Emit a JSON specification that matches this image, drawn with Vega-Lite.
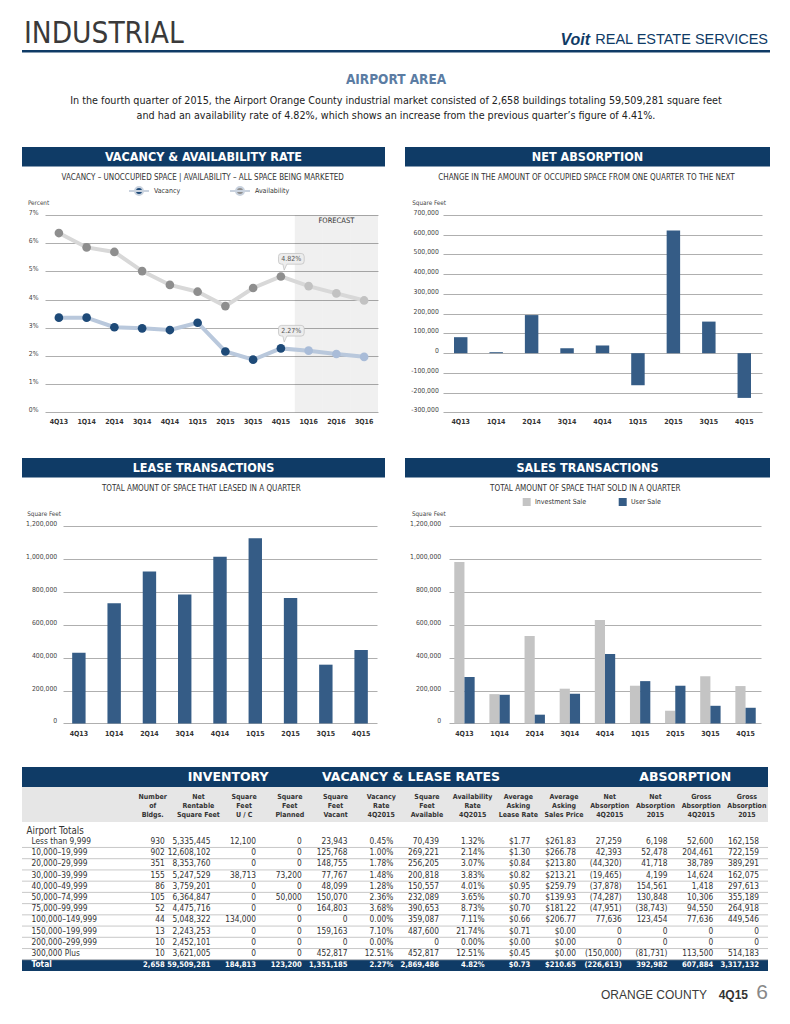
{
"$schema": "https://vega.github.io/schema/vega-lite/v6.json",
"padding": 0,
"background": "white",
"bounds": "flush",
"spacing": 0,
"resolve": {"scale": {"color": "independent"}, "legend": {"color": "independent"}},
"config": {"view": {"stroke": null}, "font": "Liberation Sans Narrow, DejaVu Sans Condensed, Roboto, sans-serif", "title": {"font": "Liberation Sans Narrow, DejaVu Sans Condensed, Roboto, sans-serif", "subtitleFont": "Liberation Sans Narrow, DejaVu Sans Condensed, Roboto, sans-serif"}},
"hconcat": [
 {"width": 22, "height": 40, "data": {"values": [{}]}, "mark": "text", "encoding": {"text": {"value": ""}}},
 {"vconcat": [
  {"width": 10, "height": 50, "data": {"values": [{}]}, "mark": "text", "encoding": {"text": {"value": ""}}},
  {"hconcat": [
    {"width": 518, "height": 2.5, "view": {"fill": "#0f3b66", "stroke": null}, "title": {"text": "INDUSTRIAL", "anchor": "start", "fontSize": 29.5, "fontWeight": "normal", "color": "#3a3a3a", "offset": -4.5, "dx": 2}, "data": {"values": [{}]}, "mark": "text", "encoding": {"text": {"value": ""}}},
    {"width": 50, "height": 2.5, "view": {"fill": "#0f3b66", "stroke": null}, "title": {"text": "Voit", "anchor": "end", "fontSize": 16, "fontWeight": "bold", "fontStyle": "italic", "color": "#0f3b66", "font": "Liberation Sans, Arial, sans-serif", "offset": -2.5}, "data": {"values": [{}]}, "mark": "text", "encoding": {"text": {"value": ""}}},
    {"width": 180, "height": 2.5, "view": {"fill": "#0f3b66", "stroke": null}, "title": {"text": "REAL ESTATE SERVICES", "anchor": "end", "fontSize": 14.5, "fontWeight": "normal", "color": "#0f3b66", "font": "Liberation Sans, Arial, sans-serif", "offset": -1.8, "dx": -2}, "data": {"values": [{}]}, "mark": "text", "encoding": {"text": {"value": ""}}}
  ], "spacing": 0, "bounds": "flush"},
  {"width": 10, "height": 97, "data": {"values": [{}]}, "mark": "text", "encoding": {"text": {"value": ""}}},
  {"hconcat": [
    {"width": 363, "height": 19.5, "view": {"fill": "#0f3b66", "stroke": null}, "data": {"values": [{"t": "VACANCY & AVAILABILITY RATE"}]}, "mark": {"type": "text", "color": "white", "fontSize": 12.5, "fontWeight": "bold"}, "encoding": {"text": {"field": "t"}}},
    {"width": 365, "height": 19.5, "view": {"fill": "#0f3b66", "stroke": null}, "data": {"values": [{"t": "NET ABSORPTION"}]}, "mark": {"type": "text", "color": "white", "fontSize": 12.5, "fontWeight": "bold"}, "encoding": {"text": {"field": "t"}}}
  ], "spacing": 20, "bounds": "flush",
  "title": {"text": "AIRPORT AREA", "subtitle": ["In the fourth quarter of 2015, the Airport Orange County industrial market consisted of 2,658 buildings totaling 59,509,281 square feet", "and had an availability rate of 4.82%, which shows an increase from the previous quarter’s figure of 4.41%."], "anchor": "middle", "fontSize": 13.5, "fontWeight": "bold", "color": "#5b7ca3", "subtitleFontSize": 10.7, "subtitleColor": "#222", "subtitleLineHeight": 15, "subtitlePadding": 10, "offset": 26}},
  {"width": 10, "height": 67.3, "data": {"values": [{}]}, "mark": "text", "encoding": {"text": {"value": ""}}},
  {"hconcat": [
    {"width": 23, "height": 1, "data": {"values": [{}]}, "mark": "text", "encoding": {"text": {"value": ""}}},
    {"width": 333, "height": 197.4,
     "title": {"text": "VACANCY – UNOCCUPIED SPACE  |  AVAILABILITY – ALL SPACE BEING MARKETED", "frame": "bounds", "anchor": "middle", "fontSize": 8, "fontWeight": "normal", "color": "#333", "offset": 4},
     "data": {"values": [
      {"q": "4Q13", "series": "Availability", "rate": 0.0636, "forecast": false},
      {"q": "1Q14", "series": "Availability", "rate": 0.0585, "forecast": false},
      {"q": "2Q14", "series": "Availability", "rate": 0.0569, "forecast": false},
      {"q": "3Q14", "series": "Availability", "rate": 0.0501, "forecast": false},
      {"q": "4Q14", "series": "Availability", "rate": 0.0452, "forecast": false},
      {"q": "1Q15", "series": "Availability", "rate": 0.0428, "forecast": false},
      {"q": "2Q15", "series": "Availability", "rate": 0.0377, "forecast": false},
      {"q": "3Q15", "series": "Availability", "rate": 0.0441, "forecast": false},
      {"q": "4Q15", "series": "Availability", "rate": 0.0482, "forecast": false},
      {"q": "1Q16", "series": "Availability", "rate": 0.0448, "forecast": true},
      {"q": "2Q16", "series": "Availability", "rate": 0.0422, "forecast": true},
      {"q": "3Q16", "series": "Availability", "rate": 0.0397, "forecast": true},
      {"q": "4Q13", "series": "Vacancy", "rate": 0.0336, "forecast": false},
      {"q": "1Q14", "series": "Vacancy", "rate": 0.0336, "forecast": false},
      {"q": "2Q14", "series": "Vacancy", "rate": 0.0302, "forecast": false},
      {"q": "3Q14", "series": "Vacancy", "rate": 0.0298, "forecast": false},
      {"q": "4Q14", "series": "Vacancy", "rate": 0.0292, "forecast": false},
      {"q": "1Q15", "series": "Vacancy", "rate": 0.0318, "forecast": false},
      {"q": "2Q15", "series": "Vacancy", "rate": 0.0216, "forecast": false},
      {"q": "3Q15", "series": "Vacancy", "rate": 0.0187, "forecast": false},
      {"q": "4Q15", "series": "Vacancy", "rate": 0.0227, "forecast": false},
      {"q": "1Q16", "series": "Vacancy", "rate": 0.0219, "forecast": true},
      {"q": "2Q16", "series": "Vacancy", "rate": 0.0207, "forecast": true},
      {"q": "3Q16", "series": "Vacancy", "rate": 0.0197, "forecast": true}
     ]},
     "encoding": {
      "x": {"field": "q", "type": "ordinal", "scale": {"type": "band", "domain": ["4Q13","1Q14","2Q14","3Q14","4Q14","1Q15","2Q15","3Q15","4Q15","1Q16","2Q16","3Q16"], "paddingInner": 0, "paddingOuter": 0}, "axis": {"title": null, "labelAngle": 0, "ticks": false, "domain": false, "labelPadding": 5, "labelFontSize": 7, "labelColor": "#333", "labelFontWeight": "bold"}}
     },
     "layer": [
      {"transform": [{"filter": "datum.series === 'Vacancy' && datum.forecast"}], "mark": {"type": "bar", "color": "#000000", "opacity": 0.06},
       "encoding": {"y": {"datum": 0.07, "type": "quantitative", "scale": {"domain": [0, 0.07], "nice": false}, "axis": {"title": "Percent", "values": [0,0.01,0.02,0.03,0.04,0.05,0.06,0.07], "format": ".0%", "labelOverlap": false, "grid": true, "gridColor": "#9b9b9b", "gridWidth": 0.8, "domain": false, "ticks": false, "labelAlign": "left", "labelPadding": 16.7, "labelFontSize": 6.8, "labelColor": "#444", "labelOffset": -2.5, "titleAngle": 0, "titleAlign": "left", "titleBaseline": "middle", "titleX": -17.6, "titleY": -12.3, "titleFontSize": 6.3, "titleFontWeight": "normal", "titleColor": "#444"}}}},
      {"data": {"values": [{"note": "FORECAST"}]}, "mark": {"type": "text", "fontSize": 7.5, "color": "#333"},
       "encoding": {"x": {"datum": "2Q16"}, "text": {"field": "note"},
        "y": {"datum": 0.068, "type": "quantitative", "scale": {"domain": [0, 0.07], "nice": false}, "axis": {"title": "Percent", "values": [0,0.01,0.02,0.03,0.04,0.05,0.06,0.07], "format": ".0%", "labelOverlap": false, "grid": true, "gridColor": "#9b9b9b", "gridWidth": 0.8, "domain": false, "ticks": false, "labelAlign": "left", "labelPadding": 16.7, "labelFontSize": 6.8, "labelColor": "#444", "labelOffset": -2.5, "titleAngle": 0, "titleAlign": "left", "titleBaseline": "middle", "titleX": -17.6, "titleY": -12.3, "titleFontSize": 6.3, "titleFontWeight": "normal", "titleColor": "#444"}}}},
      {"transform": [{"filter": "datum.series === 'Availability'"}], "mark": {"type": "line", "strokeWidth": 4, "color": "#d8d8d8"},
       "encoding": {"y": {"field": "rate", "type": "quantitative", "scale": {"domain": [0, 0.07], "nice": false}, "axis": {"title": "Percent", "values": [0,0.01,0.02,0.03,0.04,0.05,0.06,0.07], "format": ".0%", "labelOverlap": false, "grid": true, "gridColor": "#9b9b9b", "gridWidth": 0.8, "domain": false, "ticks": false, "labelAlign": "left", "labelPadding": 16.7, "labelFontSize": 6.8, "labelColor": "#444", "labelOffset": -2.5, "titleAngle": 0, "titleAlign": "left", "titleBaseline": "middle", "titleX": -17.6, "titleY": -12.3, "titleFontSize": 6.3, "titleFontWeight": "normal", "titleColor": "#444"}}}},
      {"transform": [{"filter": "datum.series === 'Vacancy'"}], "mark": {"type": "line", "strokeWidth": 4, "color": "#b9c8dc"},
       "encoding": {"y": {"field": "rate", "type": "quantitative", "scale": {"domain": [0, 0.07], "nice": false}, "axis": {"title": "Percent", "values": [0,0.01,0.02,0.03,0.04,0.05,0.06,0.07], "format": ".0%", "labelOverlap": false, "grid": true, "gridColor": "#9b9b9b", "gridWidth": 0.8, "domain": false, "ticks": false, "labelAlign": "left", "labelPadding": 16.7, "labelFontSize": 6.8, "labelColor": "#444", "labelOffset": -2.5, "titleAngle": 0, "titleAlign": "left", "titleBaseline": "middle", "titleX": -17.6, "titleY": -12.3, "titleFontSize": 6.3, "titleFontWeight": "normal", "titleColor": "#444"}}}},
      {"transform": [{"filter": "!datum.forecast"}], "mark": {"type": "point", "filled": true, "size": 75, "opacity": 1},
       "encoding": {"y": {"field": "rate", "type": "quantitative", "scale": {"domain": [0, 0.07], "nice": false}, "axis": {"title": "Percent", "values": [0,0.01,0.02,0.03,0.04,0.05,0.06,0.07], "format": ".0%", "labelOverlap": false, "grid": true, "gridColor": "#9b9b9b", "gridWidth": 0.8, "domain": false, "ticks": false, "labelAlign": "left", "labelPadding": 16.7, "labelFontSize": 6.8, "labelColor": "#444", "labelOffset": -2.5, "titleAngle": 0, "titleAlign": "left", "titleBaseline": "middle", "titleX": -17.6, "titleY": -12.3, "titleFontSize": 6.3, "titleFontWeight": "normal", "titleColor": "#444"}},
        "color": {"field": "series", "type": "nominal", "scale": {"domain": ["Vacancy", "Availability"], "range": ["#1e4a78", "#8e8e8e"]},
        "legend": {"orient": "none", "legendX": 89, "legendY": -29, "direction": "horizontal", "title": null, "symbolType": "M-2.5,0 L2.5,0 M-1,0 A1,1 0 1,0 1,0 A1,1 0 1,0 -1,0 Z", "symbolSize": 64, "symbolStrokeWidth": 2, "symbolStrokeColor": "#c9d2de", "labelFontSize": 7, "labelColor": "#333", "labelOffset": 10, "columnPadding": 45}}}},
      {"transform": [{"filter": "datum.forecast"}], "mark": {"type": "point", "filled": true, "size": 75, "opacity": 1},
       "encoding": {"y": {"field": "rate", "type": "quantitative", "scale": {"domain": [0, 0.07], "nice": false}, "axis": {"title": "Percent", "values": [0,0.01,0.02,0.03,0.04,0.05,0.06,0.07], "format": ".0%", "labelOverlap": false, "grid": true, "gridColor": "#9b9b9b", "gridWidth": 0.8, "domain": false, "ticks": false, "labelAlign": "left", "labelPadding": 16.7, "labelFontSize": 6.8, "labelColor": "#444", "labelOffset": -2.5, "titleAngle": 0, "titleAlign": "left", "titleBaseline": "middle", "titleX": -17.6, "titleY": -12.3, "titleFontSize": 6.3, "titleFontWeight": "normal", "titleColor": "#444"}},
        "color": {"condition": {"test": "datum.series === 'Vacancy'", "value": "#a9bcd8"}, "value": "#c2c2c2"}}},
      {"transform": [{"filter": "datum.q === '4Q15'"}], "mark": {"type": "point", "filled": true, "size": 400, "shape": "M0.06,-2.3 L2.03,-2.3 Q2.33,-2.3 2.33,-2 L2.33,-1.53 Q2.33,-1.23 2.03,-1.23 L0.6,-1.23 L0.33,-0.63 L0.2,-1.23 L0.06,-1.23 Q-0.24,-1.23 -0.24,-1.53 L-0.24,-2 Q-0.24,-2.3 0.06,-2.3 Z", "color": "#ededed", "stroke": "#bdbdbd", "strokeWidth": 0.7, "opacity": 1},
       "encoding": {"y": {"field": "rate", "type": "quantitative", "scale": {"domain": [0, 0.07], "nice": false}, "axis": {"title": "Percent", "values": [0,0.01,0.02,0.03,0.04,0.05,0.06,0.07], "format": ".0%", "labelOverlap": false, "grid": true, "gridColor": "#9b9b9b", "gridWidth": 0.8, "domain": false, "ticks": false, "labelAlign": "left", "labelPadding": 16.7, "labelFontSize": 6.8, "labelColor": "#444", "labelOffset": -2.5, "titleAngle": 0, "titleAlign": "left", "titleBaseline": "middle", "titleX": -17.6, "titleY": -12.3, "titleFontSize": 6.3, "titleFontWeight": "normal", "titleColor": "#444"}}}},
      {"transform": [{"filter": "datum.q === '4Q15'"}], "mark": {"type": "text", "dx": 10.4, "dy": -17.6, "fontSize": 7, "color": "#555"},
       "encoding": {"y": {"field": "rate", "type": "quantitative", "scale": {"domain": [0, 0.07], "nice": false}, "axis": {"title": "Percent", "values": [0,0.01,0.02,0.03,0.04,0.05,0.06,0.07], "format": ".0%", "labelOverlap": false, "grid": true, "gridColor": "#9b9b9b", "gridWidth": 0.8, "domain": false, "ticks": false, "labelAlign": "left", "labelPadding": 16.7, "labelFontSize": 6.8, "labelColor": "#444", "labelOffset": -2.5, "titleAngle": 0, "titleAlign": "left", "titleBaseline": "middle", "titleX": -17.6, "titleY": -12.3, "titleFontSize": 6.3, "titleFontWeight": "normal", "titleColor": "#444"}},
        "text": {"field": "rate", "format": ".2%"}}}
     ]},
    {"width": 65, "height": 1, "data": {"values": [{}]}, "mark": "text", "encoding": {"text": {"value": ""}}},
    {"width": 319, "height": 197.4,
     "title": {"text": "CHANGE IN THE AMOUNT OF OCCUPIED SPACE FROM ONE QUARTER TO THE NEXT", "frame": "bounds", "anchor": "middle", "fontSize": 8, "fontWeight": "normal", "color": "#333", "offset": 17},
     "data": {"values": [
      {"q": "4Q13", "sf": 81000}, {"q": "1Q14", "sf": 5000}, {"q": "2Q14", "sf": 193000}, {"q": "3Q14", "sf": 25000}, {"q": "4Q14", "sf": 39000},
      {"q": "1Q15", "sf": -162400}, {"q": "2Q15", "sf": 622000}, {"q": "3Q15", "sf": 160000}, {"q": "4Q15", "sf": -226613}
     ]},
     "mark": {"type": "bar", "color": "#355c86"},
     "encoding": {
      "x": {"field": "q", "type": "ordinal", "sort": null, "scale": {"paddingInner": 0.62, "paddingOuter": 0.31}, "axis": {"title": null, "labelAngle": 0, "ticks": false, "domain": false, "labelPadding": 5, "labelFontSize": 7, "labelColor": "#333", "labelFontWeight": "bold"}},
      "y": {"field": "sf", "type": "quantitative", "scale": {"domain": [-300000, 700000], "nice": false}, "axis": {"title": "Square Feet", "values": [-300000,-200000,-100000,0,100000,200000,300000,400000,500000,600000,700000], "labelExpr": "(datum.value < 0 ? '-' : '') + format(abs(datum.value), ',')", "labelOverlap": false, "grid": true, "gridColor": "#9b9b9b", "gridWidth": 0.8, "domain": false, "ticks": false, "labelPadding": 4.7, "labelFontSize": 6.8, "labelColor": "#444", "labelOffset": -2.5, "titleAngle": 0, "titleAlign": "left", "titleBaseline": "middle", "titleX": -31.3, "titleY": -12.6, "titleFontSize": 6.3, "titleFontWeight": "normal", "titleColor": "#444"}}
     }}
  ], "spacing": 0, "bounds": "flush", "resolve": {"scale": {"color": "independent"}, "legend": {"color": "independent"}}},
  {"width": 10, "height": 242.4, "data": {"values": [{}]}, "mark": "text", "encoding": {"text": {"value": ""}}},
  {"hconcat": [
    {"width": 363, "height": 19.5, "view": {"fill": "#0f3b66", "stroke": null}, "data": {"values": [{"t": "LEASE TRANSACTIONS"}]}, "mark": {"type": "text", "color": "white", "fontSize": 12.5, "fontWeight": "bold"}, "encoding": {"text": {"field": "t"}}},
    {"width": 365, "height": 19.5, "view": {"fill": "#0f3b66", "stroke": null}, "data": {"values": [{"t": "SALES TRANSACTIONS"}]}, "mark": {"type": "text", "color": "white", "fontSize": 12.5, "fontWeight": "bold"}, "encoding": {"text": {"field": "t"}}}
  ], "spacing": 20, "bounds": "flush"},
  {"width": 10, "height": 67.6, "data": {"values": [{}]}, "mark": "text", "encoding": {"text": {"value": ""}}},
  {"hconcat": [
    {"width": 41, "height": 1, "data": {"values": [{}]}, "mark": "text", "encoding": {"text": {"value": ""}}},
    {"width": 314, "height": 197.4,
     "title": {"text": "TOTAL AMOUNT OF SPACE THAT LEASED IN A QUARTER", "frame": "bounds", "anchor": "middle", "fontSize": 8, "fontWeight": "normal", "color": "#333", "offset": 17},
     "data": {"values": [
      {"q": "4Q13", "sf": 430000}, {"q": "1Q14", "sf": 730000}, {"q": "2Q14", "sf": 924000}, {"q": "3Q14", "sf": 784000}, {"q": "4Q14", "sf": 1013000},
      {"q": "1Q15", "sf": 1125000}, {"q": "2Q15", "sf": 762000}, {"q": "3Q15", "sf": 357000}, {"q": "4Q15", "sf": 446000}
     ]},
     "mark": {"type": "bar", "color": "#355c86"},
     "encoding": {
      "x": {"field": "q", "type": "ordinal", "sort": null, "scale": {"paddingInner": 0.62, "paddingOuter": 0.26}, "axis": {"title": null, "labelAngle": 0, "ticks": false, "domain": false, "labelPadding": 6, "labelFontSize": 7, "labelColor": "#333", "labelFontWeight": "bold"}},
      "y": {"field": "sf", "type": "quantitative", "scale": {"domain": [0, 1200000], "nice": false}, "axis": {"title": "Square Feet", "values": [0,200000,400000,600000,800000,1000000,1200000], "labelExpr": "format(datum.value, ',')", "labelOverlap": false, "grid": true, "gridColor": "#9b9b9b", "gridWidth": 0.8, "domain": false, "ticks": false, "labelPadding": 6.3, "labelFontSize": 6.8, "labelColor": "#444", "labelOffset": -2.5, "titleAngle": 0, "titleAlign": "left", "titleBaseline": "middle", "titleX": -36.3, "titleY": -12.6, "titleFontSize": 6.3, "titleFontWeight": "normal", "titleColor": "#444"}}
     }},
    {"width": 72, "height": 1, "data": {"values": [{}]}, "mark": "text", "encoding": {"text": {"value": ""}}},
    {"width": 312, "height": 197.4,
     "title": {"text": "TOTAL AMOUNT OF SPACE THAT SOLD IN A QUARTER", "frame": "bounds", "anchor": "middle", "fontSize": 8, "fontWeight": "normal", "color": "#333", "offset": 4},
     "data": {"values": [
      {"q": "4Q13", "type": "Investment Sale", "sf": 981000}, {"q": "4Q13", "type": "User Sale", "sf": 282000},
      {"q": "1Q14", "type": "Investment Sale", "sf": 178000}, {"q": "1Q14", "type": "User Sale", "sf": 174000},
      {"q": "2Q14", "type": "Investment Sale", "sf": 531000}, {"q": "2Q14", "type": "User Sale", "sf": 53000},
      {"q": "3Q14", "type": "Investment Sale", "sf": 211000}, {"q": "3Q14", "type": "User Sale", "sf": 180000},
      {"q": "4Q14", "type": "Investment Sale", "sf": 628000}, {"q": "4Q14", "type": "User Sale", "sf": 422000},
      {"q": "1Q15", "type": "Investment Sale", "sf": 229000}, {"q": "1Q15", "type": "User Sale", "sf": 257000},
      {"q": "2Q15", "type": "Investment Sale", "sf": 77000}, {"q": "2Q15", "type": "User Sale", "sf": 229000},
      {"q": "3Q15", "type": "Investment Sale", "sf": 286000}, {"q": "3Q15", "type": "User Sale", "sf": 107000},
      {"q": "4Q15", "type": "Investment Sale", "sf": 227000}, {"q": "4Q15", "type": "User Sale", "sf": 95000}
     ]},
     "mark": {"type": "bar"},
     "encoding": {
      "x": {"field": "q", "type": "ordinal", "sort": null, "scale": {"paddingInner": 0.42, "paddingOuter": 0.15}, "axis": {"title": null, "labelAngle": 0, "ticks": false, "domain": false, "labelPadding": 6, "labelFontSize": 7, "labelColor": "#333", "labelFontWeight": "bold"}},
      "xOffset": {"field": "type", "sort": ["Investment Sale", "User Sale"]},
      "y": {"field": "sf", "type": "quantitative", "scale": {"domain": [0, 1200000], "nice": false}, "axis": {"title": "Square Feet", "values": [0,200000,400000,600000,800000,1000000,1200000], "labelExpr": "format(datum.value, ',')", "labelOverlap": false, "grid": true, "gridColor": "#9b9b9b", "gridWidth": 0.8, "domain": false, "ticks": false, "labelPadding": 8.3, "labelFontSize": 6.8, "labelColor": "#444", "labelOffset": -2.5, "titleAngle": 0, "titleAlign": "left", "titleBaseline": "middle", "titleX": -37.6, "titleY": -12.6, "titleFontSize": 6.3, "titleFontWeight": "normal", "titleColor": "#444"}},
      "color": {"field": "type", "type": "nominal", "scale": {"domain": ["Investment Sale", "User Sale"], "range": ["#c4c4c4", "#355c86"]}, "legend": {"orient": "none", "legendX": 72.7, "legendY": -29, "direction": "horizontal", "title": null, "symbolType": "square", "symbolSize": 64, "labelFontSize": 7, "labelColor": "#333", "labelOffset": 3.3, "columnPadding": 31}}
     }}
  ], "spacing": 0, "bounds": "flush", "resolve": {"scale": {"color": "independent"}, "legend": {"color": "independent"}}},
  {"width": 10, "height": 240.7, "data": {"values": [{}]}, "mark": "text", "encoding": {"text": {"value": ""}}},
  {"width": 746, "height": 20, "view": {"fill": "#0f3b66", "stroke": null},
   "data": {"values": [{"group": "INVENTORY", "over": "uc"}, {"group": "VACANCY & LEASE RATES", "over": "sa"}, {"group": "ABSORPTION", "over": "ga4"}]},
   "mark": {"type": "text", "color": "white", "fontSize": 12.5, "fontWeight": "bold", "dx": -28, "font": "DejaVu Sans, sans-serif"},
   "encoding": {"x": {"field": "over", "type": "ordinal", "scale": {"type": "point", "domain": ["b","nr","uc","pl","sv","vr","sa","ar","lr","sp","na4","na15","ga4","ga15"], "range": [142.7, 736.9], "padding": 0}, "axis": null}, "text": {"field": "group"}}},
  {"width": 746, "height": 35, "view": {"fill": "#e6e6e6", "stroke": null},
   "data": {"values": [
    {"k": "b", "h": "Number|of|Bldgs."}, {"k": "nr", "h": "Net|Rentable|Square Feet"}, {"k": "uc", "h": "Square|Feet|U / C"}, {"k": "pl", "h": "Square|Feet|Planned"},
    {"k": "sv", "h": "Square|Feet|Vacant"}, {"k": "vr", "h": "Vacancy|Rate|4Q2015"}, {"k": "sa", "h": "Square|Feet|Available"}, {"k": "ar", "h": "Availability|Rate|4Q2015"},
    {"k": "lr", "h": "Average|Asking|Lease Rate"}, {"k": "sp", "h": "Average|Asking|Sales Price"}, {"k": "na4", "h": "Net|Absorption|4Q2015"}, {"k": "na15", "h": "Net|Absorption|2015"},
    {"k": "ga4", "h": "Gross|Absorption|4Q2015"}, {"k": "ga15", "h": "Gross|Absorption|2015"}
   ]},
   "mark": {"type": "text", "fontSize": 7, "fontWeight": "bold", "color": "#333", "lineBreak": "|", "lineHeight": 9.3, "dx": -12, "dy": -8, "align": "center", "baseline": "middle"},
   "encoding": {"x": {"field": "k", "type": "ordinal", "scale": {"type": "point", "domain": ["b","nr","uc","pl","sv","vr","sa","ar","lr","sp","na4","na15","ga4","ga15"], "range": [142.7, 736.9], "padding": 0}, "axis": null}, "text": {"field": "h"}}},
  {"width": 10, "height": 3, "data": {"values": [{}]}, "mark": "text", "encoding": {"text": {"value": ""}}},
  {"width": 746, "height": 146,
   "data": {"values": [
    {"label": "Less than 9,999", "b": "930", "nr": "5,335,445", "uc": "12,100", "pl": "0", "sv": "23,943", "vr": "0.45%", "sa": "70,439", "ar": "1.32%", "lr": "$1.77", "sp": "$261.83", "na4": "27,259", "na15": "6,198", "ga4": "52,600", "ga15": "162,158"},
    {"label": "10,000–19,999", "b": "902", "nr": "12,608,102", "uc": "0", "pl": "0", "sv": "125,768", "vr": "1.00%", "sa": "269,221", "ar": "2.14%", "lr": "$1.30", "sp": "$266.78", "na4": "42,393", "na15": "52,478", "ga4": "204,461", "ga15": "722,159"},
    {"label": "20,000–29,999", "b": "351", "nr": "8,353,760", "uc": "0", "pl": "0", "sv": "148,755", "vr": "1.78%", "sa": "256,205", "ar": "3.07%", "lr": "$0.84", "sp": "$213.80", "na4": "(44,320)", "na15": "41,718", "ga4": "38,789", "ga15": "389,291"},
    {"label": "30,000–39,999", "b": "155", "nr": "5,247,529", "uc": "38,713", "pl": "73,200", "sv": "77,767", "vr": "1.48%", "sa": "200,818", "ar": "3.83%", "lr": "$0.82", "sp": "$213.21", "na4": "(19,465)", "na15": "4,199", "ga4": "14,624", "ga15": "162,075"},
    {"label": "40,000–49,999", "b": "86", "nr": "3,759,201", "uc": "0", "pl": "0", "sv": "48,099", "vr": "1.28%", "sa": "150,557", "ar": "4.01%", "lr": "$0.95", "sp": "$259.79", "na4": "(37,878)", "na15": "154,561", "ga4": "1,418", "ga15": "297,613"},
    {"label": "50,000–74,999", "b": "105", "nr": "6,364,847", "uc": "0", "pl": "50,000", "sv": "150,070", "vr": "2.36%", "sa": "232,089", "ar": "3.65%", "lr": "$0.70", "sp": "$139.93", "na4": "(74,287)", "na15": "130,848", "ga4": "10,306", "ga15": "355,189"},
    {"label": "75,000–99,999", "b": "52", "nr": "4,475,716", "uc": "0", "pl": "0", "sv": "164,803", "vr": "3.68%", "sa": "390,653", "ar": "8.73%", "lr": "$0.70", "sp": "$181.22", "na4": "(47,951)", "na15": "(38,743)", "ga4": "94,550", "ga15": "264,918"},
    {"label": "100,000–149,999", "b": "44", "nr": "5,048,322", "uc": "134,000", "pl": "0", "sv": "0", "vr": "0.00%", "sa": "359,087", "ar": "7.11%", "lr": "$0.66", "sp": "$206.77", "na4": "77,636", "na15": "123,454", "ga4": "77,636", "ga15": "449,546"},
    {"label": "150,000–199,999", "b": "13", "nr": "2,243,253", "uc": "0", "pl": "0", "sv": "159,163", "vr": "7.10%", "sa": "487,600", "ar": "21.74%", "lr": "$0.71", "sp": "$0.00", "na4": "0", "na15": "0", "ga4": "0", "ga15": "0"},
    {"label": "200,000–299,999", "b": "10", "nr": "2,452,101", "uc": "0", "pl": "0", "sv": "0", "vr": "0.00%", "sa": "0", "ar": "0.00%", "lr": "$0.00", "sp": "$0.00", "na4": "0", "na15": "0", "ga4": "0", "ga15": "0"},
    {"label": "300,000 Plus", "b": "10", "nr": "3,621,005", "uc": "0", "pl": "0", "sv": "452,817", "vr": "12.51%", "sa": "452,817", "ar": "12.51%", "lr": "$0.45", "sp": "$0.00", "na4": "(150,000)", "na15": "(81,731)", "ga4": "113,500", "ga15": "514,183"},
    {"label": "Total", "b": "2,658", "nr": "59,509,281", "uc": "184,813", "pl": "123,200", "sv": "1,351,185", "vr": "2.27%", "sa": "2,869,486", "ar": "4.82%", "lr": "$0.73", "sp": "$210.65", "na4": "(226,613)", "na15": "392,982", "ga4": "607,884", "ga15": "3,317,132"}
   ]},
   "layer": [
    {"transform": [{"filter": "datum.label === 'Total'"}], "mark": {"type": "bar", "color": "#0f3b66"},
     "encoding": {"y": {"field": "label", "type": "ordinal", "scale": {"type": "band", "domain": ["Airport Totals","Less than 9,999","10,000–19,999","20,000–29,999","30,000–39,999","40,000–49,999","50,000–74,999","75,000–99,999","100,000–149,999","150,000–199,999","200,000–299,999","300,000 Plus","Total"], "paddingInner": 0, "paddingOuter": 0},
      "axis": {"title": null, "domain": false, "ticks": false, "grid": false, "labelAlign": "left", "labelBaseline": "middle", "labelLimit": 0, "labelOverlap": false, "zindex": 2,
       "labelPadding": {"condition": {"test": "datum.value === 'Airport Totals'", "value": -4}, "value": -9},
       "labelFontSize": {"condition": {"test": "datum.value === 'Airport Totals'", "value": 9.7}, "value": 8.3},
       "labelColor": {"condition": {"test": "datum.value === 'Total'", "value": "white"}, "value": "#333"},
       "labelFontWeight": {"condition": {"test": "datum.value === 'Total'", "value": "bold"}, "value": "normal"}}}}},
    {"transform": [{"filter": "datum.label !== 'Total'"}], "mark": {"type": "rule", "color": "#b0b0b0", "strokeWidth": 0.7},
     "encoding": {"y": {"field": "label", "type": "ordinal", "bandPosition": 1}}},
    {"transform": [{"fold": ["b","nr","uc","pl","sv","vr","sa","ar","lr","sp","na4","na15","ga4","ga15"], "as": ["k", "v"]}, {"filter": "datum.label !== 'Total'"}],
     "mark": {"type": "text", "align": "right", "fontSize": 8.3, "color": "#333"},
     "encoding": {"x": {"field": "k", "type": "ordinal", "scale": {"type": "point", "domain": ["b","nr","uc","pl","sv","vr","sa","ar","lr","sp","na4","na15","ga4","ga15"], "range": [142.7, 736.9], "padding": 0}, "axis": null}, "y": {"field": "label", "type": "ordinal"}, "text": {"field": "v"}}},
    {"transform": [{"fold": ["b","nr","uc","pl","sv","vr","sa","ar","lr","sp","na4","na15","ga4","ga15"], "as": ["k", "v"]}, {"filter": "datum.label === 'Total'"}],
     "mark": {"type": "text", "align": "right", "fontSize": 7.6, "fontWeight": "bold", "color": "white"},
     "encoding": {"x": {"field": "k", "type": "ordinal"}, "y": {"field": "label", "type": "ordinal"}, "text": {"field": "v"}}}
   ]},
  {"width": 10, "height": 38, "data": {"values": [{}]}, "mark": "text", "encoding": {"text": {"value": ""}}},
  {"hconcat": [
    {"width": 685, "height": 1, "title": {"text": "ORANGE COUNTY", "anchor": "end", "fontSize": 12, "fontWeight": "normal", "color": "#3a3a3a", "font": "Liberation Sans, Arial, sans-serif", "offset": 2}, "data": {"values": [{}]}, "mark": "text", "encoding": {"text": {"value": ""}}},
    {"width": 41, "height": 1, "title": {"text": "4Q15", "anchor": "end", "fontSize": 12, "fontWeight": "bold", "color": "#333", "font": "Liberation Sans, Arial, sans-serif", "offset": 2}, "data": {"values": [{}]}, "mark": "text", "encoding": {"text": {"value": ""}}},
    {"width": 20, "height": 1, "title": {"text": "6", "anchor": "end", "fontSize": 21, "fontWeight": "normal", "color": "#888", "font": "Liberation Sans, Arial, sans-serif", "offset": 0.5}, "data": {"values": [{}]}, "mark": "text", "encoding": {"text": {"value": ""}}}
  ], "spacing": 0, "bounds": "flush"}
 ], "spacing": 0, "bounds": "flush", "resolve": {"scale": {"color": "independent"}, "legend": {"color": "independent"}}}
]
}
